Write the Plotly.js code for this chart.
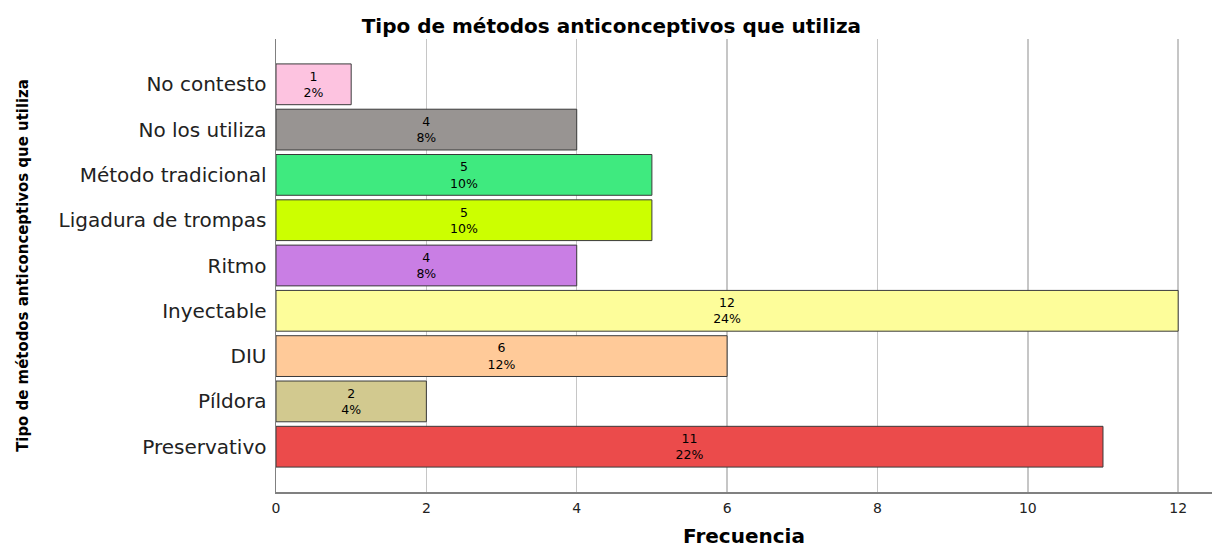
<!DOCTYPE html>
<html>
<head>
<meta charset="utf-8">
<script src="https://cdn.plot.ly/plotly-3.0.1.min.js"></script>
<style>
  html, body { margin: 0; padding: 0; background: #fff; overflow: hidden; }
  #chart { width: 1213px; height: 548px; }
</style>
</head>
<body>
<div id="chart"></div>
<script>
// Categories listed from bottom to top, as drawn
const categories = ["Preservativo", "Píldora", "DIU", "Inyectable", "Ritmo",
  "Ligadura de trompas", "Método tradicional", "No los utiliza", "No contesto"];
const counts = [11, 2, 6, 12, 4, 5, 5, 4, 1];
const percentLabels = ["22%", "4%", "12%", "24%", "8%", "10%", "10%", "8%", "2%"];
const barColors = ["#EB4B4B", "#D2C98F", "#FFCA99", "#FDFD9A", "#C97EE4",
  "#CCFF00", "#3FEA7F", "#989492", "#FDC3E0"];
const xTicks = [0, 2, 4, 6, 8, 10, 12];

const labels = counts.map((c, i) => c + "<br>" + percentLabels[i]);

const trace = {
  type: "bar",
  orientation: "h",
  y: categories,
  x: counts,
  width: 0.9,
  marker: { color: barColors, line: { color: "#3a3a3a", width: 1 } },
  text: labels,
  textposition: "inside",
  insidetextanchor: "middle",
  textangle: 0,
  constraintext: "none",
  insidetextfont: { family: "DejaVu Sans", size: 12.5, color: "#000" },
  hoverinfo: "none"
};

const layout = {
  width: 1213,
  height: 548,
  paper_bgcolor: "#fff",
  plot_bgcolor: "#fff",
  margin: { l: 276, r: 1, t: 39, b: 56, pad: 0 },
  showlegend: false,
  bargap: 0.1,
  title: {
    text: "Tipo de métodos anticonceptivos que utiliza",
    font: { family: "DejaVu Sans", size: 20, color: "#000", weight: "bold" },
    xref: "container", x: 0.504, xanchor: "center",
    yref: "container", y: 0.952, yanchor: "middle"
  },
  xaxis: {
    range: [0, 12.45],
    tickvals: xTicks,
    ticktext: xTicks.map(String),
    ticks: "outside", ticklen: 0,
    ticklabelstandoff: 3,
    tickfont: { family: "DejaVu Sans", size: 14, color: "#222" },
    showgrid: true, gridcolor: "#c6c6c6", gridwidth: 1.5,
    zeroline: false,
    showline: true, linecolor: "#808080", linewidth: 1.5,
    title: {
      text: "Frecuencia",
      font: { family: "DejaVu Sans", size: 20, color: "#000", weight: "bold" },
      standoff: 16
    },
    fixedrange: true
  },
  yaxis: {
    type: "category",
    categoryorder: "array",
    categoryarray: categories,
    range: [-1, 9],
    ticks: "outside", ticklen: 0,
    ticklabelstandoff: 4,
    tickfont: { family: "DejaVu Sans", size: 20, color: "#222" },
    showgrid: false,
    zeroline: false,
    showline: true, linecolor: "#808080", linewidth: 1.5,
    title: {
      text: "Tipo de métodos anticonceptivos que utiliza",
      font: { family: "DejaVu Sans Condensed, sans-serif", size: 16.6, color: "#000", weight: "bold" },
      standoff: 26
    },
    fixedrange: true
  }
};

Plotly.newPlot("chart", [trace], layout, { displayModeBar: false, staticPlot: true });
</script>
</body>
</html>
